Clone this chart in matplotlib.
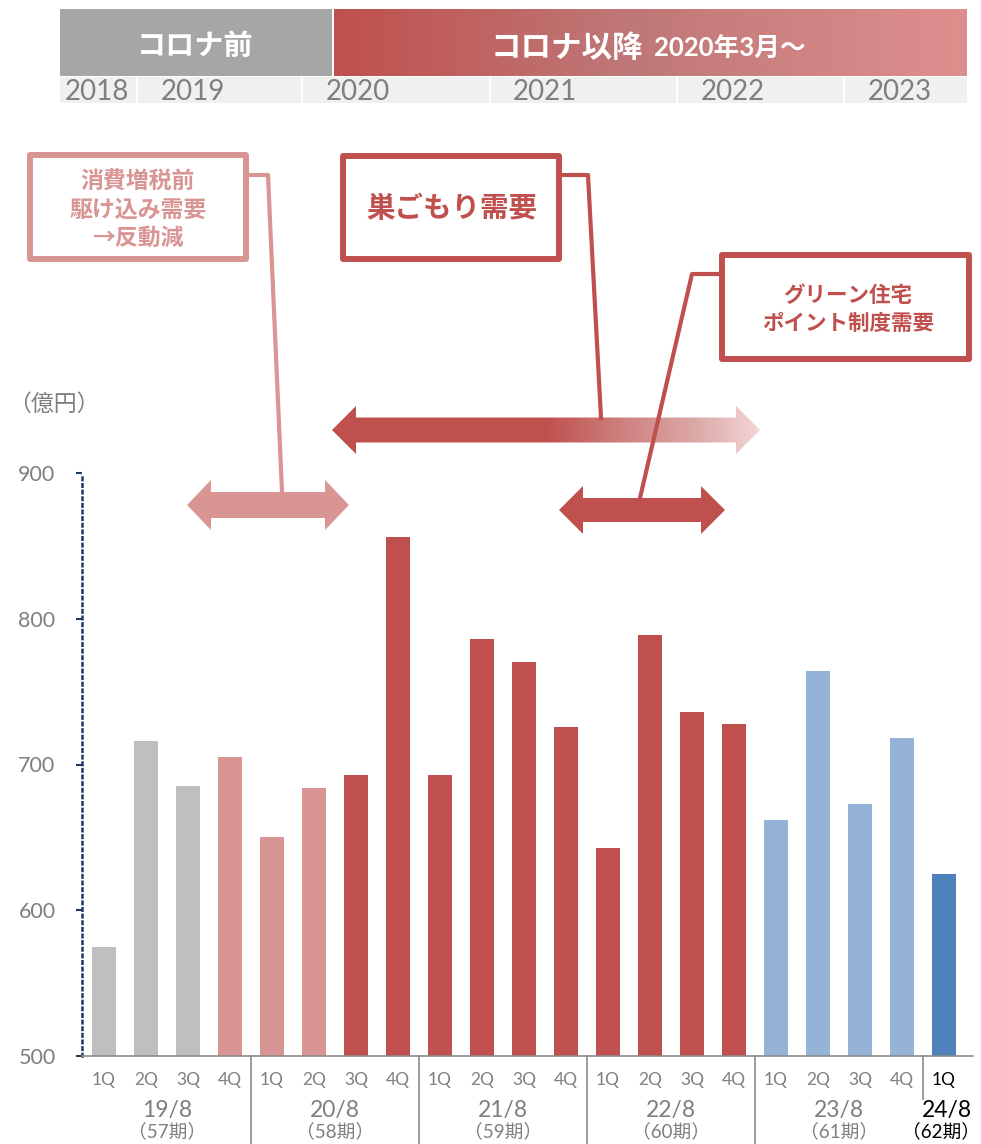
import numpy as np
import matplotlib
matplotlib.use('Agg')
import matplotlib.pyplot as plt
from matplotlib.patches import Polygon, Rectangle
from matplotlib.colors import LinearSegmentedColormap

plt.rcParams['font.family'] = ['Lato', 'Noto Sans CJK JP', 'DejaVu Sans']
JP = ['Noto Sans CJK JP', 'DejaVu Sans']

# ---- data ----
quarters = ['1Q', '2Q', '3Q', '4Q'] * 5 + ['1Q']
sales = [575, 716, 685, 705,
         650, 684, 693, 856,
         693, 786, 770, 726,
         643, 789, 736, 728,
         662, 764, 673, 718,
         625]
periods = ['19/8', '20/8', '21/8', '22/8', '23/8', '24/8']
terms = ['（57期）', '（58期）', '（59期）', '（60期）', '（61期）', '（62期）']
group_size = [4, 4, 4, 4, 4, 1]
years = ['2018', '2019', '2020', '2021', '2022', '2023']
yticks = [500, 600, 700, 800, 900]

GRAY, PINK, RED, LBLUE, BLUE = '#bfbfbf', '#d99594', '#c0504d', '#95b3d7', '#4f81bd'
bar_colors = [GRAY]*3 + [PINK]*3 + [RED]*10 + [LBLUE]*4 + [BLUE]
TXT = '#7f7f7f'
NAVY = '#1f3864'

W, H = 981, 1144
AX_L, AX_R, AX_B, AX_T = 82, 973, 1056, 473
STEP, X0 = 42, 104   # px per bar, centre of first bar

fig = plt.figure(figsize=(W/100, H/100), dpi=100, facecolor='white')

# ---- bar chart ----
ax = fig.add_axes([AX_L/W, (H-AX_B)/H, (AX_R-AX_L)/W, (AX_B-AX_T)/H])
x = np.arange(len(sales))
ax.bar(x, [s - 500 for s in sales], bottom=500, width=24/STEP, color=bar_colors, edgecolor='none')
ax.set_xlim(-(X0-AX_L)/STEP, (AX_R-X0)/STEP)
ax.set_ylim(500, 900)
ax.set_yticks(yticks)
ax.set_yticklabels([str(v) for v in yticks], color=TXT, fontsize=15.5)
ax.tick_params(axis='y', length=4, width=1.5, color=NAVY, pad=15)
ax.set_xticks([])
for s in ['top', 'right']: ax.spines[s].set_visible(False)
ax.spines['left'].set_linestyle(':'); ax.spines['left'].set_color(NAVY); ax.spines['left'].set_linewidth(1.8)
ax.spines['bottom'].set_color('#8c8c8c'); ax.spines['bottom'].set_linewidth(1.2)

def py(p):  # pixel row -> axes fraction
    return (AX_B - p) / (AX_B - AX_T)

tr = ax.get_xaxis_transform()
for i, q in enumerate(quarters):
    ax.text(i, py(1080), q, transform=tr, ha='center', va='center', fontsize=12.5,
            color='black' if i == len(quarters)-1 else TXT)
start = 0
for k, (p, t, n) in enumerate(zip(periods, terms, group_size)):
    c = start + (n - 1) / 2
    last = k == len(periods) - 1
    col = 'black' if last else TXT
    ax.text(c + (0.08 if last else 0), py(1111), p, transform=tr, ha='center', va='center', fontsize=16.5, color=col)
    ax.text(c - (0.06 if last else 0), py(1131), t, transform=tr, ha='center', va='center', fontsize=13.5, color=col)
    start += n
    if not last:
        end = 1099 if k == len(periods) - 2 else H
        ax.plot([start-0.5, start-0.5], [0, py(end)], transform=tr, color='#8c8c8c', lw=1.2, clip_on=False)

# ---- overlay for banner and callouts (pixel coords) ----
ov = fig.add_axes([0, 0, 1, 1], facecolor='none')
ov.axis('off')

# banner
ov.add_patch(Rectangle((60, 9), 272, 67, color='#a6a6a6', lw=0))
ban = LinearSegmentedColormap.from_list('ban', [(0, '#c0504d'), (0.45, '#be7776'), (1, '#dd8f8e')])
ov.imshow(np.linspace(0, 1, 256)[None, :], extent=[334, 967, 76, 9], aspect='auto', cmap=ban, zorder=1)
ov.text(195, 46, 'コロナ前', color='white', fontsize=21, fontweight='bold', ha='center', va='center', family=JP)
ov.text(643, 57, 'コロナ以降', color='white', fontsize=22, fontweight='bold', ha='right', va='baseline', family=JP)
ov.text(654, 57, '2020年3月～', color='white', fontsize=18.5, fontweight='bold', ha='left', va='baseline')

ov.add_patch(Rectangle((60, 77), 907, 26, color='#f0f0f0', lw=0))
for xs in [137, 302, 490, 677, 844]:
    ov.plot([xs, xs], [77, 103], color='white', lw=1.5)
for yr, xs in zip(years, [65, 161, 326, 513, 701, 868]):
    ov.text(xs, 92, yr, color=TXT, fontsize=20, ha='left', va='center')

ov.text(8, 404, '（億円）', color=TXT, fontsize=16.5, ha='left', va='center', family=JP)

def darrow(x0, x1, yc, h=12.5, hh=24, L=24):
    return [(x0, yc), (x0+L, yc-hh), (x0+L, yc-h), (x1-L, yc-h), (x1-L, yc-hh), (x1, yc),
            (x1-L, yc+hh), (x1-L, yc+h), (x0+L, yc+h), (x0+L, yc+hh)]

# arrows
ov.add_patch(Polygon(darrow(187, 349, 505, 13, 25), closed=True, color=PINK, lw=0))
ov.add_patch(Polygon(darrow(559, 725, 510, 12, 24), closed=True, color=RED, lw=0))
big = Polygon(darrow(332, 760, 430, 12.5, 24), closed=True, facecolor='none', lw=0)
ov.add_patch(big)
fade = LinearSegmentedColormap.from_list('fade', [(0, RED), (0.5, RED), (0.66, '#cc7c7a'),
                                                  (0.85, '#dca8a7'), (1, '#f2d6d5')])
im = ov.imshow(np.linspace(0, 1, 256)[None, :], extent=[332, 760, 455, 405], aspect='auto', cmap=fade, zorder=2)
im.set_clip_path(big)

# callout boxes
ov.add_patch(Rectangle((30, 155), 216, 104, facecolor='white', edgecolor=PINK, lw=4.3, joinstyle='round', zorder=3))
ov.plot([246, 268, 282], [175, 175, 492], color=PINK, lw=3, zorder=2.5, solid_joinstyle='round')
for txt, yy in zip(['消費増税前', '駆け込み需要', '→反動減'], [182, 210, 238]):
    ov.text(138, yy, txt, color=PINK, fontsize=16.5, fontweight='bold', ha='center', va='center', zorder=4, family=JP)

ov.add_patch(Rectangle((343, 156), 216, 103, facecolor='white', edgecolor=RED, lw=4.3, joinstyle='round', zorder=3))
ov.plot([559, 588, 601], [175, 175, 418], color=RED, lw=3, zorder=2.5, solid_joinstyle='round')
ov.text(452, 209, '巣ごもり需要', color=RED, fontsize=20.5, fontweight='bold', ha='center', va='center', zorder=4, family=JP)

ov.add_patch(Rectangle((722, 255), 247, 104, facecolor='white', edgecolor=RED, lw=4.3, joinstyle='round', zorder=3))
ov.plot([722, 692, 640], [274, 274, 498], color=RED, lw=3, zorder=2.6, solid_joinstyle='round')
for txt, yy in zip(['グリーン住宅', 'ポイント制度需要'], [296, 323]):
    ov.text(848, yy, txt, color=RED, fontsize=15.5, fontweight='bold', ha='center', va='center', zorder=4, family=JP)

ov.set_xlim(0, W)
ov.set_ylim(H, 0)

fig.savefig('out.png', dpi=100, facecolor='white')
